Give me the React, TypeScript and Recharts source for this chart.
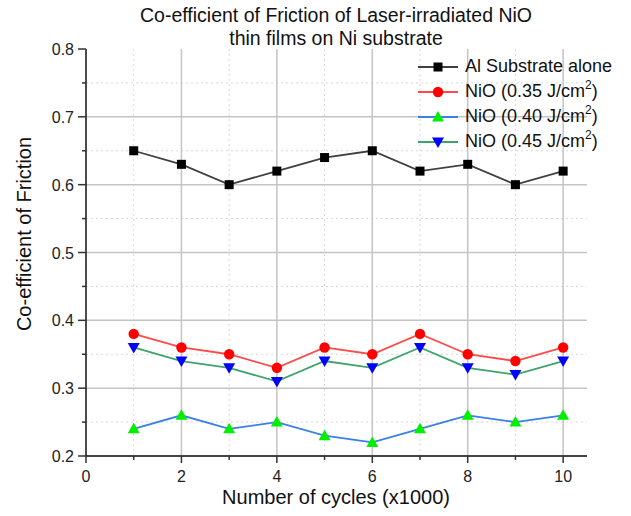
import React from 'react';
import { LineChart, Line, XAxis, YAxis, CartesianGrid } from 'recharts';

const cycles = [1, 2, 3, 4, 5, 6, 7, 8, 9, 10];
const alSubstrate = [0.65, 0.63, 0.6, 0.62, 0.64, 0.65, 0.62, 0.63, 0.6, 0.62];
const nio035 = [0.38, 0.36, 0.35, 0.33, 0.36, 0.35, 0.38, 0.35, 0.34, 0.36];
const nio040 = [0.24, 0.26, 0.24, 0.25, 0.23, 0.22, 0.24, 0.26, 0.25, 0.26];
const nio045 = [0.36, 0.34, 0.33, 0.31, 0.34, 0.33, 0.36, 0.33, 0.32, 0.34];

const xTicks = [0, 1, 2, 3, 4, 5, 6, 7, 8, 9, 10];
const xMajor = [0, 2, 4, 6, 8, 10];
const yTicks = [0.2, 0.25, 0.3, 0.35, 0.4, 0.45, 0.5, 0.55, 0.6, 0.65, 0.7, 0.75, 0.8];
const yMajor = [0.2, 0.3, 0.4, 0.5, 0.6, 0.7, 0.8];
const xGridMajor = [2, 4, 6, 8, 10];
const xGridMinor = [1, 3, 5, 7, 9];
const yGridMajor = [0.3, 0.4, 0.5, 0.6, 0.7];
const yGridMinor = [0.25, 0.35, 0.45, 0.55, 0.65, 0.75];

const titleLines = ['Co-efficient of Friction of Laser-irradiated NiO', 'thin films on Ni substrate'];
const xLabel = 'Number of cycles (x1000)';
const yLabel = 'Co-efficient of Friction';

const data = cycles.map((c, i) => ({
  cycle: c,
  al: alSubstrate[i],
  n035: nio035[i],
  n040: nio040[i],
  n045: nio045[i],
}));

const FONT = '"Liberation Sans", Arial, sans-serif';

const SquareDot = (p: any) => {
  const { cx, cy } = p;
  if (cx == null || cy == null) return null;
  return <rect x={cx - 4.5} y={cy - 4.5} width={9} height={9} fill="#000" />;
};
const CircleDot = (p: any) => {
  const { cx, cy } = p;
  if (cx == null || cy == null) return null;
  return <circle cx={cx} cy={cy} r={5.2} fill="#ff0000" />;
};
const UpDot = (p: any) => {
  const { cx, cy } = p;
  if (cx == null || cy == null) return null;
  return <path d={`M${cx},${cy - 6} L${cx + 6},${cy + 4.5} L${cx - 6},${cy + 4.5} Z`} fill="#00ee00" />;
};
const DownDot = (p: any) => {
  const { cx, cy } = p;
  if (cx == null || cy == null) return null;
  return <path d={`M${cx},${cy + 6} L${cx + 6},${cy - 4.5} L${cx - 6},${cy - 4.5} Z`} fill="#0000ff" />;
};

const XTick = (p: any) => {
  const { x, y, payload } = p;
  const v = payload.value;
  const major = xMajor.includes(v);
  return (
    <g>
      <line x1={x} x2={x} y1={y} y2={y + (major ? 7 : 4)} stroke="#333" strokeWidth={1.5} />
      {major && (
        <text x={x} y={y + 26} textAnchor="middle" fontSize={16} fill="#222" fontFamily={FONT}>
          {v}
        </text>
      )}
    </g>
  );
};

const YTick = (p: any) => {
  const { x, y, payload } = p;
  const v = payload.value;
  const major = yMajor.some((m) => Math.abs(m - v) < 1e-6);
  return (
    <g>
      <line x1={x - (major ? 8 : 4)} x2={x} y1={y} y2={y} stroke="#333" strokeWidth={1.5} />
      {major && (
        <text x={x - 12} y={y + 6} textAnchor="end" fontSize={16} fill="#222" fontFamily={FONT}>
          {v.toFixed(1)}
        </text>
      )}
    </g>
  );
};

const legendItems = [
  { label: 'Al Substrate alone', sup: '', line: '#404040', dot: 'square' },
  { label: 'NiO (0.35 J/cm', sup: '2', line: '#ff4a4a', dot: 'circle' },
  { label: 'NiO (0.40 J/cm', sup: '2', line: '#3a80e6', dot: 'up' },
  { label: 'NiO (0.45 J/cm', sup: '2', line: '#3fa46a', dot: 'down' },
];

const LegendMarker = ({ kind }: { kind: string }) => {
  const cx = 20, cy = 9;
  if (kind === 'square') return <SquareDot cx={cx} cy={cy} />;
  if (kind === 'circle') return <CircleDot cx={cx} cy={cy} />;
  if (kind === 'up') return <UpDot cx={cx} cy={cy} />;
  return <DownDot cx={cx} cy={cy} />;
};

const LegendBox = () => (
  <div style={{ position: 'absolute', left: 418, top: 54, fontFamily: FONT, fontSize: 18, color: '#111' }}>
    {legendItems.map((it) => (
      <div key={it.label} style={{ display: 'flex', alignItems: 'center', height: 25 }}>
        <svg width={40} height={18} style={{ marginRight: 7 }}>
          <line x1={0} x2={40} y1={9} y2={9} stroke={it.line} strokeWidth={2} />
          <LegendMarker kind={it.dot} />
        </svg>
        <span style={{ whiteSpace: 'nowrap' }}>
          {it.label}
          {it.sup && <sup style={{ fontSize: 12, verticalAlign: 'top', position: 'relative', top: -3 }}>{it.sup}</sup>}
          {it.sup && ')'}
        </span>
      </div>
    ))}
  </div>
);

export default function App() {
  return (
    <div style={{ position: 'absolute', left: 0, top: 0, width: 631, height: 516, background: '#fff', fontFamily: FONT }}>
      <LineChart width={631} height={516} data={data} margin={{ top: 49, right: 44, left: 0, bottom: 0 }}>
        <CartesianGrid
          horizontalValues={yGridMinor}
          verticalValues={xGridMinor}
          stroke="#d8d8d8"
          strokeDasharray="2 3"
          strokeWidth={1}
        />
        <CartesianGrid
          horizontalValues={yGridMajor}
          verticalValues={xGridMajor}
          stroke="#c4c4c4"
          strokeWidth={1.5}
        />
        <XAxis
          dataKey="cycle"
          type="number"
          domain={[0, 10.5]}
          ticks={xTicks}
          interval={0}
          tickLine={false}
          tickSize={0}
          tickMargin={0}
          tick={<XTick />}
          height={60}
          stroke="#444"
          strokeWidth={2}
          label={{
            content: () => (
              <text x={336} y={504} textAnchor="middle" fontSize={20} fill="#111" fontFamily={FONT}>
                {xLabel}
              </text>
            ),
          }}
        />
        <YAxis
          type="number"
          domain={[0.2, 0.8]}
          ticks={yTicks}
          interval={0}
          tickLine={false}
          tickSize={0}
          tickMargin={0}
          tick={<YTick />}
          width={86}
          stroke="#111"
          strokeWidth={1.5}
          label={{
            content: () => (
              <text x={31} y={234} transform="rotate(-90 31 234)" textAnchor="middle" fontSize={20} fill="#111" fontFamily={FONT}>
                {yLabel}
              </text>
            ),
          }}
        />
        <Line dataKey="al" stroke="#404040" strokeWidth={1.8} dot={<SquareDot />} isAnimationActive={false} />
        <Line dataKey="n035" stroke="#ff4a4a" strokeWidth={1.8} dot={<CircleDot />} isAnimationActive={false} />
        <Line dataKey="n040" stroke="#3a80e6" strokeWidth={1.8} dot={<UpDot />} isAnimationActive={false} />
        <Line dataKey="n045" stroke="#3fa46a" strokeWidth={1.8} dot={<DownDot />} isAnimationActive={false} />
      </LineChart>
      <LegendBox />
      <div style={{ position: 'absolute', left: 0, top: 4, width: 672, textAlign: 'center', fontSize: 19.5, lineHeight: '23px', color: '#111' }}>
        {titleLines.map((t) => (
          <div key={t}>{t}</div>
        ))}
      </div>
    </div>
  );
}
